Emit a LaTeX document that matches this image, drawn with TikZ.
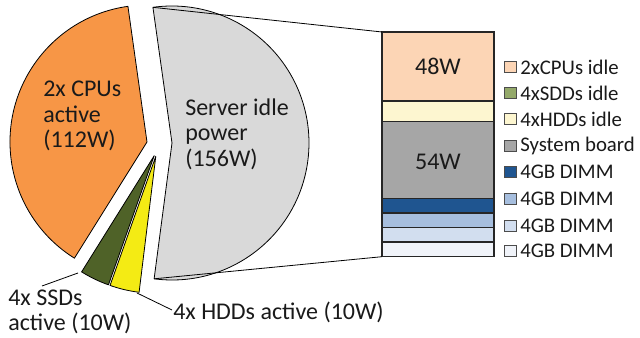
\documentclass[tikz,border=0pt]{standalone}
\usepackage{fontspec}
\setmainfont{Carlito}
\usetikzlibrary{calc}
\definecolor{cpuorange}{HTML}{F79646}
\definecolor{idlegray}{HTML}{D9D9D9}
\definecolor{ssdgreen}{HTML}{4F6228}
\definecolor{hddyellow}{HTML}{F4EB14}
\definecolor{cpuidle}{HTML}{FCD5B5}
\definecolor{ssdidle}{HTML}{94A96A}
\definecolor{hddidle}{HTML}{FDF6D0}
\definecolor{boardgray}{HTML}{A6A6A6}
\definecolor{dimmA}{HTML}{1F5590}
\definecolor{dimmB}{HTML}{A6BEDE}
\definecolor{dimmC}{HTML}{D2DEEF}
\definecolor{dimmD}{HTML}{F0F3F9}
\definecolor{inktext}{HTML}{1A1A1A}
\tikzset{
  slice/.style={draw=black, line width=0.6pt, line join=round},
  segment/.style={draw=black!85, line width=0.8pt},
  bigtext/.style={font=\fontsize{18}{19.2}\selectfont, text=inktext, inner sep=0pt, align=left},
  legtext/.style={font=\fontsize{15.6}{18}\selectfont, text=inktext, inner sep=0pt, anchor=west},
  legbox/.style={draw=black!70, line width=0.6pt, minimum width=9pt, minimum height=8.2pt, inner sep=0pt},
  leader/.style={draw=black, line width=0.6pt},
}
\begin{document}
\begin{tikzpicture}[x=0.75pt, y=0.75pt]
\useasboundingbox (0,0) rectangle (640,338);

% exploded pie: centres of the individual slices
\coordinate (ccpu) at (147,196);
\coordinate (cidle) at (172,195);
\coordinate (cssd) at (154.2,182.3);
\coordinate (chdd) at (155.8,181.7);

% 2x CPUs active (112W)
\filldraw[slice, fill=cpuorange] (ccpu) -- ++(98:137) arc[start angle=98, end angle=238, radius=137] -- cycle;
% server idle power (156W)
\filldraw[slice, fill=idlegray] (cidle) -- ++(-97.5:137) arc[start angle=-97.5, end angle=98, radius=137] -- cycle;
% 4x SSDs active
\filldraw[slice, fill=ssdgreen] (cssd) -- ++(238:137) arc[start angle=238, end angle=250.5, radius=137] -- cycle;
% 4x HDDs active
\filldraw[slice, fill=hddyellow] (chdd) -- ++(250.5:137) arc[start angle=250.5, end angle=263, radius=137] -- cycle;

% corner points of the idle slice for the zoom lines
\coordinate (idletop) at ($(cidle)+(98:137)$);
\coordinate (idlebot) at ($(cidle)+(-97.5:137)$);

% stacked bar of the idle power
\def\bl{382}\def\br{494}
\filldraw[segment, fill=dimmD] (\bl,81.3) rectangle (\br,96);
\filldraw[segment, fill=dimmC] (\bl,96) rectangle (\br,110.3);
\filldraw[segment, fill=dimmB] (\bl,110.3) rectangle (\br,125);
\filldraw[segment, fill=dimmA] (\bl,125) rectangle (\br,139.3);
\filldraw[segment, fill=boardgray] (\bl,139.3) rectangle (\br,216.7);
\filldraw[segment, fill=hddidle] (\bl,216.7) rectangle (\br,236.8);
\filldraw[segment, fill=ssdidle] (\bl,236.8) rectangle (\br,237.8);
\filldraw[segment, fill=cpuidle] (\bl,237.8) rectangle (\br,306);
\coordinate (bartop) at (\bl,306);
\coordinate (barbot) at (\bl,81.3);

\node[bigtext] (w48) at (438,272) {48W};
\node[bigtext] (w54) at (438,176) {54W};

% zoom lines from the idle slice to the bar
\draw[leader] (idletop) -- (bartop);
\draw[leader] (idlebot) -- (barbot);

% slice labels
\node[bigtext, anchor=west] (lcpu) at (43,222) {2x CPUs\\active\\(112W)};
\node[bigtext, anchor=west] (lidle) at (185,204) {Server idle\\power\\(156W)};
\node[bigtext, anchor=west] (lssd) at (8,26) {4x SSDs\\active (10W)};
\node[bigtext, anchor=west] (lhdd) at (173,26) {4x HDDs active (10W)};

% leader lines
\coordinate (ssdtip) at (78,65);
\coordinate (ssdend) at (42,52);
\coordinate (hddtip) at (137,45);
\coordinate (hddend) at (172,28);
\draw[leader] (ssdtip) -- (ssdend);
\draw[leader] (hddtip) -- (hddend);

% legend
\foreach \c/\t/\y [count=\i] in {cpuidle/2xCPUs idle/271, ssdidle/4xSDDs idle/245, hddidle/4xHDDs idle/219, boardgray/System board/192, dimmA/4GB DIMM/166, dimmB/4GB DIMM/139, dimmC/4GB DIMM/112, dimmD/4GB DIMM/87}{
  \node[legbox, fill=\c] (key\i) at (510,\y) {};
  \node[legtext] (lab\i) at (520,\y) {\t};
}
\end{tikzpicture}
\end{document}
